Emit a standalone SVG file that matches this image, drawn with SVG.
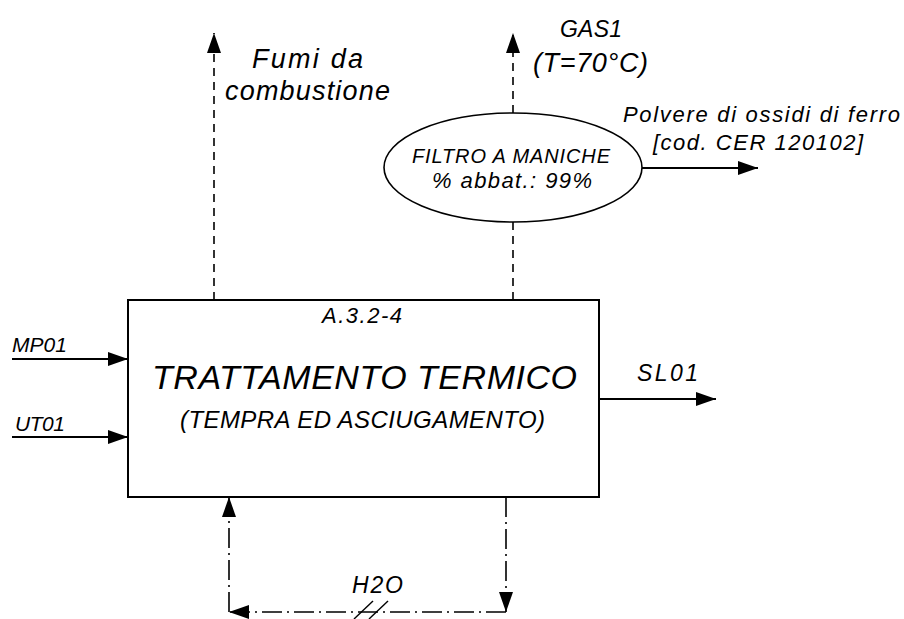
<svg xmlns="http://www.w3.org/2000/svg" width="904" height="619" viewBox="0 0 904 619">
<style>
text{font-family:"Liberation Sans",Arial,sans-serif;font-style:italic;fill:#000}
.box{fill:#fff;stroke:#000;stroke-width:2}
.ell{fill:#fff;stroke:#000;stroke-width:1.6}
.solid{fill:none;stroke:#000;stroke-width:2}
.dash{fill:none;stroke:#000;stroke-width:1.6;stroke-dasharray:8 6}
.dashdot{fill:none;stroke:#000;stroke-width:1.6;stroke-dasharray:20 5 2 5}
.thin{fill:none;stroke:#000;stroke-width:1.4}
</style>
<defs>
<marker id="arr" markerUnits="userSpaceOnUse" viewBox="0 0 20 14" refX="20" refY="7" markerWidth="20" markerHeight="14" orient="auto">
<path d="M0,0 L20,7 L0,14 Z" fill="#000"/>
</marker>
</defs>
<rect width="904" height="619" fill="#fff"/>
<g id="connectors">
<line class="solid" x1="12" y1="359" x2="128" y2="359" marker-end="url(#arr)"/>
<line class="solid" x1="12" y1="437" x2="128" y2="437" marker-end="url(#arr)"/>
<line class="solid" x1="599" y1="399" x2="716" y2="399" marker-end="url(#arr)"/>
<line class="dash" x1="214" y1="300" x2="214" y2="33" marker-end="url(#arr)"/>
<line class="dash" x1="513" y1="300" x2="513" y2="222"/>
<line class="dash" x1="513" y1="113" x2="513" y2="33" marker-end="url(#arr)"/>
<line class="solid" x1="642" y1="168" x2="758" y2="168" marker-end="url(#arr)"/>
<line class="dashdot" x1="506" y1="497" x2="506" y2="612" marker-end="url(#arr)"/>
<line class="dashdot" x1="506" y1="612" x2="229" y2="612" marker-end="url(#arr)"/>
<line class="dashdot" x1="229" y1="612" x2="229" y2="497" marker-end="url(#arr)"/>
<line class="thin" x1="354" y1="619" x2="373" y2="601"/>
<line class="thin" x1="369" y1="619" x2="388" y2="601"/>
</g>
<g id="box">
<rect class="box" x="128" y="300" width="471" height="197"/>
<text x="322" y="323" font-size="22" textLength="80" lengthAdjust="spacing">A.3.2-4</text>
<text x="152" y="389" font-size="34" textLength="425" lengthAdjust="spacing">TRATTAMENTO TERMICO</text>
<text x="180" y="428" font-size="24" textLength="365" lengthAdjust="spacing">(TEMPRA ED ASCIUGAMENTO)</text>
</g>
<g id="filtro">
<ellipse class="ell" cx="513" cy="167.5" rx="129" ry="54.5"/>
<text x="412" y="163" font-size="20" textLength="198" lengthAdjust="spacing">FILTRO A MANICHE</text>
<text x="432" y="188" font-size="22" textLength="160" lengthAdjust="spacing">% abbat.: 99%</text>
</g>
<g id="labels">
<text x="252" y="68" font-size="27" textLength="111" lengthAdjust="spacing">Fumi da</text>
<text x="225" y="100" font-size="27" textLength="165" lengthAdjust="spacing">combustione</text>
<text x="560" y="37" font-size="23" textLength="62" lengthAdjust="spacing">GAS1</text>
<text x="533" y="72" font-size="27" textLength="115" lengthAdjust="spacing">(T=70°C)</text>
<text x="623" y="122" font-size="22" textLength="277" lengthAdjust="spacing">Polvere di ossidi di ferro</text>
<text x="653" y="150" font-size="22" textLength="210" lengthAdjust="spacing">[cod. CER 120102]</text>
<text x="12" y="352" font-size="21" textLength="55" lengthAdjust="spacing">MP01</text>
<text x="15" y="431" font-size="21" textLength="50" lengthAdjust="spacing">UT01</text>
<text x="637" y="381" font-size="23" textLength="61" lengthAdjust="spacing">SL01</text>
<text x="352" y="593" font-size="23" textLength="51" lengthAdjust="spacing">H2O</text>
</g>
</svg>
